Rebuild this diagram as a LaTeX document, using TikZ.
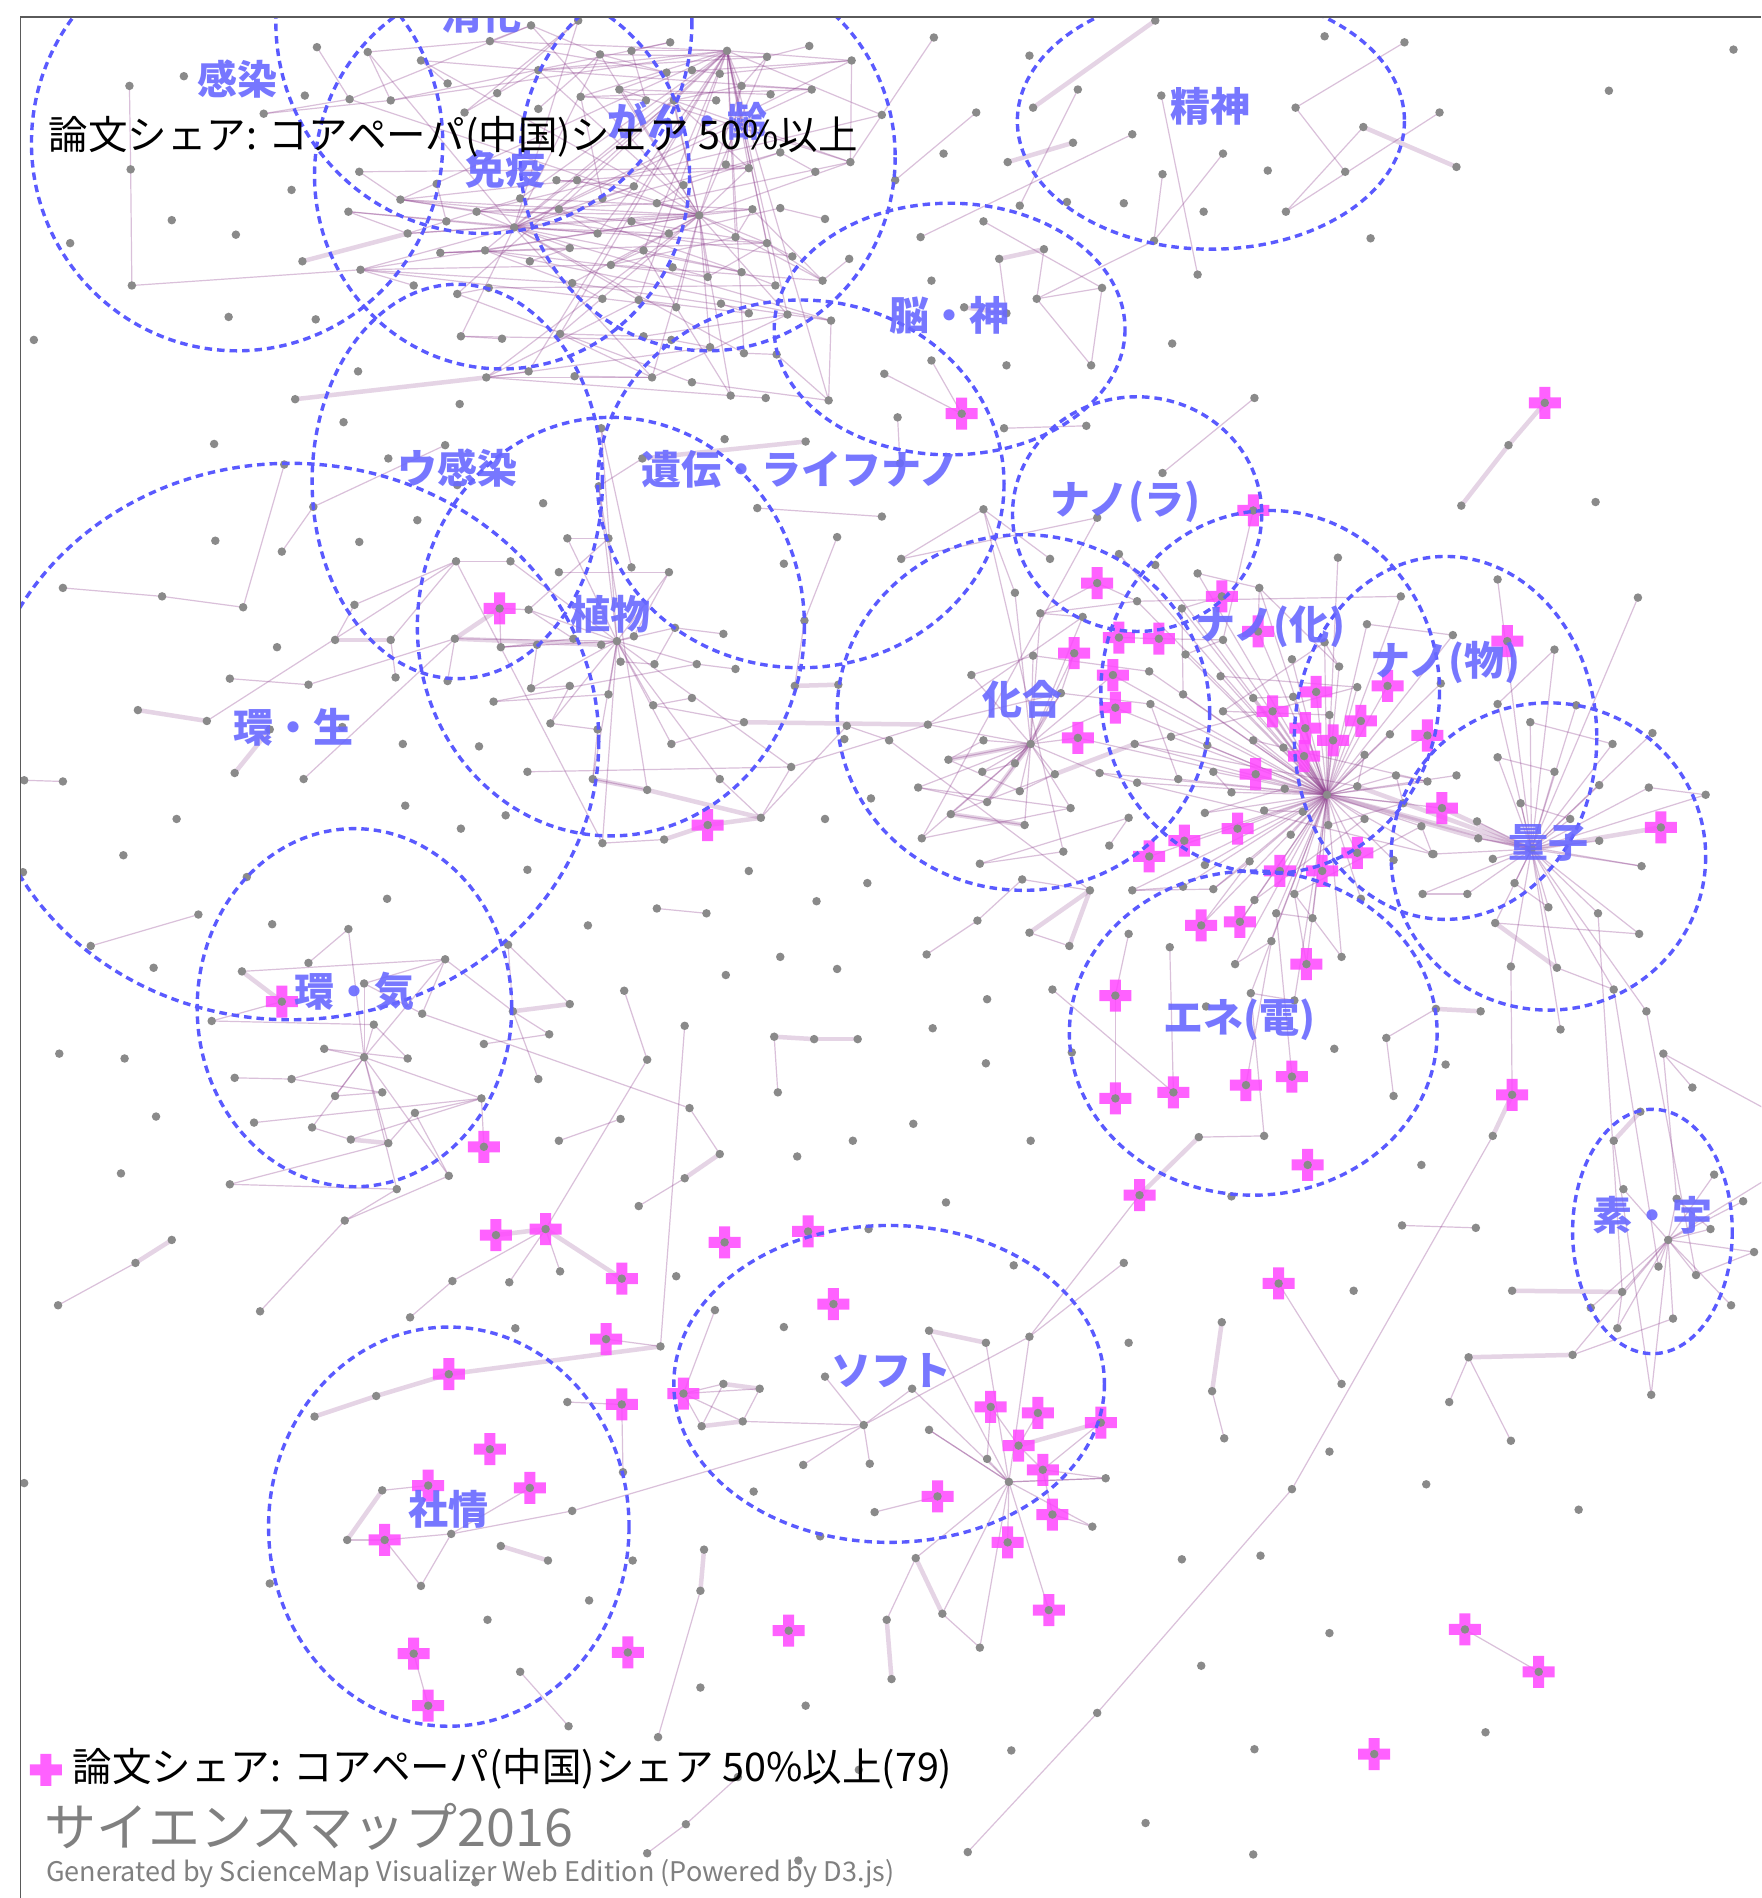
\documentclass[tikz,border=0pt]{standalone}
\usepackage{fontspec}
\newfontfamily\jp{Noto Sans CJK JP}
\definecolor{edgecol}{RGB}{140,60,140}
\definecolor{dotcol}{RGB}{138,138,138}
\definecolor{crosscol}{RGB}{255,70,255}
\definecolor{regcol}{RGB}{90,90,255}
\definecolor{labcol}{RGB}{105,105,255}
\definecolor{framecol}{RGB}{90,90,90}
\definecolor{graytext}{RGB}{128,128,128}
\tikzset{
 edge/.style={draw=edgecol, draw opacity=.32, line width=1.2pt},
 edgeT/.style={draw=edgecol, draw opacity=.22, line width=4.5pt},
 dot/.style={circle, fill=dotcol, inner sep=0pt, minimum size=8.5pt},
 region/.style={draw=regcol, line width=3.4pt, dash pattern=on 7.5pt off 5pt},
 lab/.style={font=\jp\bfseries\fontsize{40}{44}\selectfont, text=labcol, text opacity=.9, inner sep=0pt},
 crossfill/.style={fill=crosscol, fill opacity=.85},
}
\newcommand\myspokes[4]{\foreach \i in {1,...,#2}{\pgfmathtruncatemacro\rr{mod(\i,#4)}\ifnum\rr=0 \draw[edge] (#3) -- (#1\i);\fi}}
\newcommand\mychain[4]{\foreach \i in {1,...,#2}{\pgfmathtruncatemacro\rr{mod(\i,#4)}\pgfmathtruncatemacro\jj{\i+#3}\ifnum\rr=0 \ifnum\jj>#2 \else\draw[edge] (#1\i) -- (#1\jj);\fi\fi}}
\newcommand\crossat[1]{\fill[crossfill] (#1) ++(-5.5pt,-16pt) -- ++(11pt,0) -- ++(0,10.5pt) -- ++(10.5pt,0) -- ++(0,11pt) -- ++(-10.5pt,0) -- ++(0,10.5pt) -- ++(-11pt,0) -- ++(0,-10.5pt) -- ++(-10.5pt,0) -- ++(0,-11pt) -- ++(10.5pt,0) -- cycle;}

\def\tlist{252/79,262/39,289/82,323/83,304/43,348/50,370/69,405/34,439/21,478/17,411/77,445/58,384/93,445/90,496/45,522/42,554/35,634/47,669/38,704/50,551/60,572/58,595/61,613/71,671/74,637/78,512/74,480/80,534/83,557/83,592/83,729/95,703/134,674/142,645/126,619/139,600/136,565/153,543/168,524/154,498/164,477/149,460/149,430/164,394/175,369/183,361/152,331/165,297/142,288/175,337/193,462/173,494/193,522/183,553/193,608/196,622/173,645/172,682/181,634/201,655/212,702/214,680/232,641/236,613/225,585/229,556/221,532/207,505/219,471/205,438/216,401/207,364/209,342/236,298/223,378/243,404/238,473/234,498/247,528/248,559/254,596/251,619/259,651/260,687/265,633/329,604/327,685/331,572/316,539/312,475/311,437/307,402/312,415/280,381/278,463/276,532/278,555/281,587/287,615/292,642/293}
\def\plist{449/416,469/445,503/445,497/354,522/469,553/473,462/473,437/504,474/528,497/533,524/526,558/519,598/524,414/535,444/533,513/547,541/549,576/549,608/553,439/569,471/567,503/574,408/580,540/583,572/577,455/598,494/603,555/615,615/597,654/634,436/638,490/644,535/653,595/644,629/676,498/697,549/694,495/402,531/379,422/464,377/464,376/528,370/563}
\def\klist{839/490,860/507,895/510,854/542,803/558,877/573,767/599,813/612,784/628,839/631,812/638,872/640,843/654,816/663,759/651,786/673,847/682,762/693,885/668,868/462,813/421,907/428,745/462,810/714,879/704,845/727,901/736,933/676,917/699,700/600,735/612,720/660}
\def\nlist{925/458,955/467,990/474,1041/486,1106/461,1158/493,940/497,977/503,1011/529,980/541,1068/545,1095/531,1107/551,950/555,1009/559,1122/568,978/574,1036/577,1069/576,951/582,1011/588,1099/591,1191/565,938/615,968/609,998/616,1036/612,1061/618,974/644,1003/638,1018/655,1062/652,1122/650,1128/624,1149/607,1154/641,1180/646,1204/641,909/639,940/647,996/672,1045/670,1077/671,1128/677,1160/664,1098/682,1067/690,1175/683,1184/706,996/715,1033/712,1003/735,1037/744,1055/755,1085/759,1051/778,1070/739,1109/791,1125/743,978/733,936/736,1152/711,1130/516,1201/525,1021/797,1034/821,1070/827}
\def\qlist{1238/479,1354/494,1285/537,1238/582,1303/583,1265/597,1333/615,1366/606,1238/626,1285/638,1322/649,1363/651,1410/657,1221/679,1257/664,1298/677,1322/695,1357/716,1222/693,1234/710,1252/730,1280/750,1321/755,1213/739,1176/739,1185/706,1355/772,1236/763,1249/799,1287/800,1334/818,1361/836,1290/851}
\def\ulist{1342/983,1417/971,1386/991,1441/993,1414/1016,1450/1035,1371/1047,1402/1054,1341/1068,1315/1081,1337/1098,1383/1090,1431/1079,1300/1120,1365/1153,1356/919,1334/943}
\def\elist{225/764,288/768,255/796,368/793,200/803,301/813,349/838,309/847,175/844,268/867,337/875,241/892,194/891,277/906,316/903,398/908,210/928,258/932,290/942,321/945,343/920,328/983,190/979,371/972,285/1009}
\def\flist{768/1100,851/1105,815/1110,754/1148,768/1182,816/1206,914/1222,903/1262,757/1288,779/1334,810/1362,714/1178,682/1138,664/1211,719/1210,723/1250,678/1270,933/1110}
\def\clist{795/342,1277/333,413/503,1036/422,907/482,1010/493,888/540,925/527,958/528,1040/522,920/558,922/585,891/610,1246/530,1147/567,1088/572,1052/588,1125/596,1079/602,1102/612,1078/625,1180/608,1038/640,1192/668,1023/685,979/695,950/708,1122/705,1058/720,1093/720,1373/684,585/682,993/765,1025/762,1080/797,922/823,233/828,922/908,970/903,1030/897,1068/890,1250/905,400/948,1081/963,942/988,410/1021,451/1016,599/1027,668/1018,514/1057,1057/1061,689/1078,501/1107,371/1136,514/1161,565/1152,819/1163,858/1168,910/1176,842/1195,862/1215,405/1198,354/1228,438/1230,775/1237,870/1252,318/1273,833/1275,867/1331,342/1367,519/1366,652/1348,354/1410,1211/1347,1272/1382,1136/1450}
\def\mlist{m1/107/71,m2/108/140,m3/109/236,m4/58/201,m5/28/281,m6/142/182,m7/195/194,m8/189/262,m9/152/63,m10/218/94,m11/241/157,m12/250/216,m13/261/264,m14/177/367,m15/296/307,m16/244/330,m17/284/349,m18/380/334,m19/368/368,m20/772/31,m21/851/46,m22/955/17,m23/854/89,m24/891/74,m25/807/93,m26/780/127,m27/833/134,m28/887/118,m29/936/111,m30/960/79,m31/1095/30,m32/1161/35,m33/1071/89,m34/1127/105,m35/1190/93,m36/1204/138,m37/1112/142,m38/1048/141,m39/1011/127,m40/961/144,m41/995/175,m42/1063/175,m43/929/168,m44/882/167,m45/843/170,m46/954/199,m47/990/227,m48/1133/197,m49/1330/75,m50/1433/41,m51/740/149,m52/761/196,m53/813/183,m54/863/206,m55/826/214,m56/770/232,m57/797/254,m58/832/259,m59/857/247,m60/911/238,m61/902/302,m62/969/284,m63/832/302,m64/770/298,m65/742/345,m66/830/354,m67/898/352,m68/1037/329,m69/1247/368,m70/1208/418,m71/1319/415,m72/961/391,m73/744/383,m74/729/427,m75/731/309,m76/626/420,m77/692/444,m78/666/365,m79/599/363,m80/648/466,m81/665/513,m82/657/567,m83/693/566,m84/698/611,m85/682/677}
\def\vlist{v2/321/379,v3/378/401,v4/235/384,v5/259/419,v6/233/456,v7/345/430,v8/178/447,v9/297/448,v10/52/486,v11/134/493,v12/201/502,v13/229/535,v14/190/561,v15/255/566,v16/114/587,v17/171/596,v18/223/603,v19/283/601,v20/194/639,v21/52/646,v22/251/644,v23/335/666,v24/418/674,v25/381/685,v26/146/677,v27/102/707,v28/277/529,v29/323/529,v30/327/560,v31/293/500,v32/333/615,v33/396/617,v34/20/645,v35/19/721,v36/204/725,v37/436/719,v38/320/743,v39/164/756,v40/75/782,v41/127/800,v42/49/871,v43/103/875,v44/129/923,v45/100/970,v46/142/1025,v47/112/1044,v48/48/1079,v49/215/1084,v50/20/1226}
\def\wlist{w1/619/720,w2/717/730,w3/675/745,w4/543/751,w5/584/755,w6/486/765,w7/645/791,w8/692/801,w9/600/806,w10/516/819,w11/566/848,w12/640/857,w13/673/859,w14/709/859,w15/535/876,w16/643/903,w17/513/925,w18/570/916,w19/462/943,w20/705/943,w21/659/956,w22/595/954,w23/566/974,w24/528/997,w25/374/1059,w26/421/1060,w27/463/1051,w28/559/1055,w29/718/1016,w30/339/1089,w31/426/1098,w32/420/781,w33/424/836,w34/454/855,w35/471/830,w36/445/892,w37/400/863}
\def\rlist{r1/808/761,r2/851/771,r3/884/782,r4/766/789,r5/933/772,r6/967/783,r7/997/832,r8/870/818,r9/816/826,r10/771/850,r11/886/870,r12/815/879,r13/755/929,r14/852/943,r15/1103/867,r16/1146/858,r17/1187/834,r18/1224/836,r19/1195/880,r20/1152/906,r21/991/940,r22/1045/939,r23/1175/963,r24/782/994,r25/1018/989,r26/1159/1013,r27/1220/1015,r28/929/1044,r29/838/1046,r30/1234/939,r31/1375/871,r32/1399/899,r33/1119/1067,r34/1250/1067,r35/1214/1122,r36/1198/1159,r37/1249/1191,r38/1010/1093,r39/1002/1150,r40/1012/1189,r41/1109/1144,r42/1099/1200,r43/1068/1231,r44/1179/1227,r45/1305/1248,r46/977/1289,r47/1042/1286,r48/1099/1350,r49/993/1377,r50/907/1416,r51/1228/1432,r52/836/1447,r53/1037/1446,r54/947/1507,r55/800/1531,r56/1036/1533}
\def\blist{b1/260/1171,b2/311/1154,b3/287/1273,b4/316/1232,b5/373/1268,b6/414/1278,b7/453/1290,b8/348/1311,b9/223/1309,b10/403/1339,b11/469/1159,b12/515/1217,b13/546/1113,b14/523/1290,b15/487/1323,b16/430/1382,b17/470/1427,b18/473/1249,b19/591/1083,b20/648/1097,b21/598/1144,b22/628/1148,b23/580/1179,b24/614/1175,b25/623/1233,b26/582/1281,b27/579/1315,b28/733/1339,b29/737/1388,b30/579/1395,b31/666/1410,b32/544/1436,b33/535/1532,b34/567/1508,b35/660/1538,b36/710/1463,b37/610/1469,b38/393/1556}
\def\hlist{ha/578/178,hb/601/42,hc/425/188,hp/510/530,hk/852/615,hn/1097/657,hq/1266/702,hu/1379/1025,he/301/874,hf/834/1225}

\begin{document}
\begin{tikzpicture}[x=1.2095pt,y=-1.2095pt]
\useasboundingbox (0,0) rectangle (1456,1569);
\fill[white] (0,0) rectangle (1456,1569);
\begin{scope}
\clip (17,14) rectangle (1456,1569);
% ---------- coordinates ----------
\foreach [count=\i] \x/\y in \tlist {\coordinate (t\i) at (\x,\y);}
\foreach [count=\i] \x/\y in \plist {\coordinate (p\i) at (\x,\y);}
\foreach [count=\i] \x/\y in \klist {\coordinate (k\i) at (\x,\y);}
\foreach [count=\i] \x/\y in \nlist {\coordinate (n\i) at (\x,\y);}
\foreach [count=\i] \x/\y in \qlist {\coordinate (q\i) at (\x,\y);}
\foreach [count=\i] \x/\y in \ulist {\coordinate (u\i) at (\x,\y);}
\foreach [count=\i] \x/\y in \elist {\coordinate (e\i) at (\x,\y);}
\foreach [count=\i] \x/\y in \flist {\coordinate (f\i) at (\x,\y);}
\foreach [count=\i] \x/\y in \clist {\coordinate (c\i) at (\x,\y);}
\foreach \n/\x/\y in \mlist {\coordinate (\n) at (\x,\y);}
\foreach \n/\x/\y in \vlist {\coordinate (\n) at (\x,\y);}
\foreach \n/\x/\y in \wlist {\coordinate (\n) at (\x,\y);}
\foreach \n/\x/\y in \rlist {\coordinate (\n) at (\x,\y);}
\foreach \n/\x/\y in \blist {\coordinate (\n) at (\x,\y);}
\foreach \n/\x/\y in \hlist {\coordinate (\n) at (\x,\y);}
\coordinate (er1) at (1460,917); \coordinate (er2) at (1460,975);
% ---------- cluster edges ----------
\myspokes{t}{101}{ha}{3} \myspokes{t}{101}{hb}{4} \myspokes{t}{101}{hc}{5}
\mychain{t}{101}{1}{2} \mychain{t}{101}{6}{3} \mychain{t}{101}{13}{4} \mychain{t}{101}{3}{5}
\myspokes{p}{43}{hp}{2} \mychain{p}{43}{1}{2} \mychain{p}{43}{5}{3}
\myspokes{k}{19}{hk}{1} \mychain{k}{32}{1}{2} \mychain{k}{32}{4}{3}
\myspokes{n}{67}{hn}{1} \mychain{n}{67}{1}{3} \mychain{n}{67}{9}{4}
\myspokes{q}{33}{hq}{1} \mychain{q}{33}{1}{3}
\myspokes{u}{15}{hu}{1} \mychain{u}{17}{2}{3}
\myspokes{e}{25}{he}{2} \mychain{e}{25}{1}{2} \mychain{e}{25}{3}{4}
\myspokes{f}{11}{hf}{1}
\foreach \x in {10,11,12,13,15,16,17,18,19,20,21,22,23,24,25,26,27,28,29,30,33,34,35} \draw[edge] (hn) -- (c\x);
\foreach \x in {7,11,12,13} \draw[edge] (hk) -- (c\x);
% ---------- explicit edges ----------
\foreach \a/\b in {m1/m2,m2/m3,m3/t75,m10/t3,m10/t4,t32/m20,m25/m51,m24/m45,m29/m52,m33/m32,m33/m37,m34/m42,m35/m42,m53/m60,m55/m58,m54/m59,m59/m60,m60/m61,m59/m61,m39/m46,m40/m46,m46/m59,m30/m47,m75/c1,m64/c1,m66/m67,m68/m72,m65/m73,m76/m74,m77/m81,m81/m82,p41/v29,p41/v31,v28/v31,v29/v30,p42/v15,v14/v15,v17/p41,v10/v11,v11/v12,v12/v4,v6/v5,v5/m19,v22/p42,v21/v34,c3/p8,c3/p14,p35/k30,p30/k7,k23/k21,k21/k1,k2/n7,k4/n14,k6/n20,hk/n39,c4/n9,c5/n7,c5/k2,c6/n8,c7/k6,c8/c9,c9/n9,c10/n4,n66/r22,r21/r22,r5/c36,c36/c38,c39/r8,c39/r6,c41/n54,c40/n56,c35/n57,c33/n51,c34/n53,q23/u9,q31/u7,q32/u8,r31/r32,r31/er1,hu/er2,q29/c42,r30/r43,r43/r50,r50/r55,r17/r16,r26/r27,c51/r41,r39/r40,r35/r36,r35/r37,r31/u3,c74/c75,k26/r1,r1/r4,r2/r3,r16/r20,w4/w5,w12/w16,w10/w15,w15/c47,w11/b13,w18/w22,w23/w24,w17/w19,v47/v48,v49/e25,w30/w25,w25/c47,w26/c47,w27/c47,e22/e25,w32/w35,w32/w33,w33/w36,w33/w34,w37/w34,e7/w18,c43/e16,e9/c37,e4/e6,v39/v40,e4/w33,e16/e21,e21/e24,f2/r28,f2/f12,f4/f12,f5/hf,c57/c60,c58/c60,c59/c61,c60/c61,c61/c66,c66/f8,c57/f6,f7/c61,f7/hf,c65/f16,c68/hf,c69/hf,f10/f11,f9/b28,f12/f15,f14/f12,f13/f12,c56/b21,c56/b22,c56/b23,c56/b24,b22/b24,b21/b23,b19/c56,b24/f12,c53/b13,c55/b11,c55/b12,b3/c67,c67/b5,b4/c63,c67/b8,b8/b5,b5/b18,b18/f12,c64/b5,b16/b17,c70/c73,b27/b32,b33/b34,b34/b37,c45/f2}
 \draw[edge] (\a) -- (\b);
\foreach \a/\b in {m23/m22,m12/t51,m16/t93,m28/m27,m34/m36,m55/m54,m57/m58,m69/c2,m70/m69,p39/m78,c3/p42,v28/v29,p42/p10,v16/v17,v20/v18,m82/m83,c32/p35,p32/p33,p33/p35,p37/c32,p29/k7,k12/n24,hn/hq,hq/c31,hq/c24,c45/r21,r30/c42,r17/r18,r38/r39,r34/u9,r35/u14,u16/u17,k27/r2,k27/r3,q28/q30,w12/w13,w13/w14,w22/w23,v46/v47,c46/c47,c47/c50,w33/w35,e5/c37,e19/e20,f1/f3,c59/c60,f9/f10,b28/b29,b21/b22,b23/b24,c54/b2,b2/b1,c54/b13,b3/b4,b6/b7,b26/b27,hn/c21,hn/n46,hn/q19,n33/hq,k9/hk,k14/hk,k16/k17}
 \draw[edgeT] (\a) -- (\b);
% ---------- dots ----------
\foreach [count=\i] \x/\y in \tlist {\node[dot] (dt\i) at (t\i) {};}
\foreach [count=\i] \x/\y in \plist {\node[dot] (dp\i) at (p\i) {};}
\foreach [count=\i] \x/\y in \klist {\node[dot] (dk\i) at (k\i) {};}
\foreach [count=\i] \x/\y in \nlist {\node[dot] (dn\i) at (n\i) {};}
\foreach [count=\i] \x/\y in \qlist {\node[dot] (dq\i) at (q\i) {};}
\foreach [count=\i] \x/\y in \ulist {\node[dot] (du\i) at (u\i) {};}
\foreach [count=\i] \x/\y in \elist {\node[dot] (de\i) at (e\i) {};}
\foreach [count=\i] \x/\y in \flist {\node[dot] (df\i) at (f\i) {};}
\foreach \n/\x/\y in \mlist {\node[dot] (d\n) at (\n) {};}
\foreach \n/\x/\y in \vlist {\node[dot] (d\n) at (\n) {};}
\foreach \n/\x/\y in \wlist {\node[dot] (d\n) at (\n) {};}
\foreach \n/\x/\y in \rlist {\node[dot] (d\n) at (\n) {};}
\foreach \n/\x/\y in \blist {\node[dot] (d\n) at (\n) {};}
\foreach \n/\x/\y in \hlist {\node[dot] (d\n) at (\n) {};}
% ---------- crosses ----------
\foreach [count=\i] \x/\y in \clist {\crossat{c\i} \node[dot] (dc\i) at (c\i) {};}
% ---------- regions ----------
\draw[region] (196,118) ellipse [x radius=170, y radius=172];
\draw[region] (400,18) ellipse [x radius=172, y radius=175];
\draw[region] (415,145) ellipse [x radius=155, y radius=160];
\draw[region] (585,130) ellipse [x radius=155, y radius=160];
\draw[region] (378,398) ellipse [x radius=120, y radius=163];
\draw[region] (662,400) ellipse [x radius=168, y radius=152];
\draw[region] (505,518) ellipse [x radius=160, y radius=173];
\draw[region] (240,613) ellipse [x radius=255, y radius=230];
\draw[region] (293,833) ellipse [x radius=130, y radius=148];
\draw[region] (785,272) ellipse [x radius=145, y radius=104];
\draw[region] (1001,100) ellipse [x radius=160, y radius=106];
\draw[region] (940,425) ellipse [x radius=103, y radius=97];
\draw[region] (846,589) ellipse [x radius=154, y radius=147];
\draw[region] (1050,572) ellipse [x radius=140, y radius=150];
\draw[region] (1195,610) ellipse [x radius=125, y radius=150];
\draw[region] (1280,708) ellipse [x radius=130, y radius=127];
\draw[region] (1036,854) ellipse [x radius=152, y radius=134];
\draw[region] (1366,1018) ellipse [x radius=66, y radius=101];
\draw[region] (735,1144) ellipse [x radius=178, y radius=131];
\draw[region] (371,1262) ellipse [x radius=149, y radius=165];
% ---------- region labels ----------
\node[lab] (l1) at (196,65) {感染};
\node[lab] (l2) at (398,12) {消化};
\node[lab] (l3) at (568,100) {がん・齢};
\node[lab] (l4) at (418,140) {免疫};
\node[lab] (l5) at (1001,88) {精神};
\node[lab] (l6) at (785,261) {脳・神};
\node[lab] (l7) at (378,387) {ウ感染};
\node[lab] (l8) at (662,388) {遺伝・ライフナノ};
\node[lab] (l9) at (930,415) {ナノ(ラ)};
\node[lab] (l10) at (505,508) {植物};
\node[lab] (l11) at (1050,518) {ナノ(化)};
\node[lab] (l12) at (1195,548) {ナノ(物)};
\node[lab] (l13) at (845,578) {化合};
\node[lab] (l14) at (243,601) {環・生};
\node[lab] (l15) at (1280,697) {量子};
\node[lab] (l16) at (293,820) {環・気};
\node[lab] (l17) at (1025,843) {エネ(電)};
\node[lab] (l18) at (1366,1005) {素・宇};
\node[lab] (l19) at (737,1133) {ソフト};
\node[lab] (l20) at (371,1248) {社情};
\end{scope}
% ---------- frame ----------
\draw[framecol, line width=1.4pt] (17,1569) -- (17,14) -- (1456,14);
% ---------- captions ----------
\node[anchor=west, inner sep=0pt, font=\jp\fontsize{39.5}{43}\selectfont] (cap1) at (40,113) {論文シェア: コアペーパ(中国)シェア 50\%以上};
\coordinate (lgc) at (38,1463);
\crossat{lgc}
\node[anchor=west, inner sep=0pt, font=\jp\fontsize{39.5}{43}\selectfont] (cap2) at (60,1462) {論文シェア: コアペーパ(中国)シェア 50\%以上(79)};
\node[anchor=west, inner sep=0pt, text=graytext, font=\jp\fontsize{52}{56}\selectfont] (ttl) at (37,1510) {サイエンスマップ2016};
\node[anchor=west, inner sep=0pt, text=graytext, font=\jp\fontsize{27}{30}\selectfont] (gen) at (38,1549) {Generated by ScienceMap Visualizer Web Edition (Powered by D3.js)};
\end{tikzpicture}
\end{document}
